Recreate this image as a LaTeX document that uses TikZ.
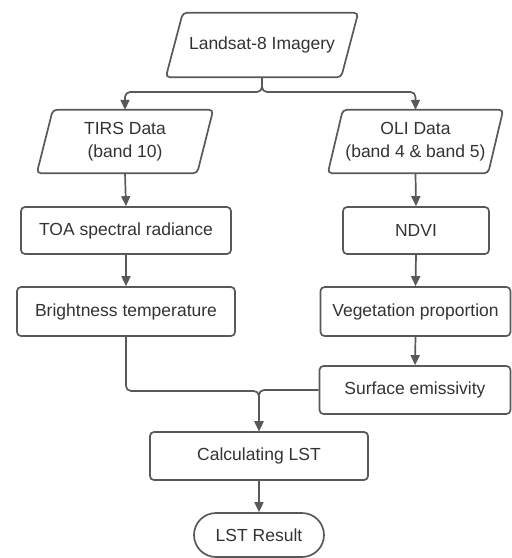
\documentclass[tikz,border=0pt]{standalone}
\usepackage{fontspec}
\setmainfont{Liberation Sans}
\usetikzlibrary{arrows.meta,calc}
\definecolor{linec}{HTML}{595959}
\definecolor{textc}{HTML}{333333}
\tikzset{
  base/.style={inner sep=0pt, text=textc, align=center, font=\fontsize{17.5}{23}\selectfont},
  procbox/.style={base, draw=linec, line width=1.7pt, rounded corners=4pt},
  iobox/.style={base},
  termbox/.style={base, draw=linec, line width=1.7pt, rounded corners=22pt},
  para/.style={draw=linec, line width=1.7pt, rounded corners=4pt},
  conn/.style={draw=linec, line width=1.7pt, rounded corners=5pt, -{Triangle[length=10pt,width=9pt]}},
  plain/.style={draw=linec, line width=1.7pt, rounded corners=5pt}
}
\begin{document}
\begin{tikzpicture}[x=1pt,y=-1pt]
\useasboundingbox (0,0) rectangle (512,558);
% input/output parallelograms
\node[iobox, minimum width=192pt, minimum height=64pt] (L) at (262,45) {Landsat-8 Imagery};
\draw[para] ([xshift=17pt]L.north west) -- (L.north east) -- ([xshift=-17pt]L.south east) -- (L.south west) -- cycle;
\node[iobox, minimum width=176pt, minimum height=63pt] (T) at (125,141.5) {TIRS Data\\(band 10)};
\draw[para] ([xshift=16pt]T.north west) -- (T.north east) -- ([xshift=-16pt]T.south east) -- (T.south west) -- cycle;
\node[iobox, minimum width=175pt, minimum height=63pt] (O) at (415.5,141.5) {OLI Data\\(band 4 \& band 5)};
\draw[para] ([xshift=15pt]O.north west) -- (O.north east) -- ([xshift=-15pt]O.south east) -- (O.south west) -- cycle;
% process boxes
\node[procbox, minimum width=210pt, minimum height=47pt] (TOA) at (126,230.5) {TOA spectral radiance};
\node[procbox, minimum width=146pt, minimum height=47pt] (N) at (416,230.5) {NDVI};
\node[procbox, minimum width=218pt, minimum height=49pt] (B) at (126,311.5) {Brightness temperature};
\node[procbox, minimum width=190pt, minimum height=49pt] (V) at (415.5,311.5) {Vegetation proportion};
\node[procbox, minimum width=191pt, minimum height=48pt] (S) at (415,390) {Surface emissivity};
\node[procbox, minimum width=218pt, minimum height=48pt] (C) at (259,456) {Calculating LST};
\node[termbox, minimum width=130pt, minimum height=44pt] (R) at (259,535) {LST Result};
% connectors
\coordinate (split) at (262,92);
\draw[conn] (L.south) -- (split) -| (T.north);
\draw[conn] (L.south) -- (split) -| (O.north);
\draw[conn] (T.south) -- (TOA.north);
\draw[conn] (TOA.south) -- (B.north);
\draw[conn] (O.south) -- (N.north);
\draw[conn] (N.south) -- (V.north);
\draw[conn] (V.south) -- (S.north);
\coordinate (join) at (259,391);
\draw[conn] (B.south) |- (join) -- (C.north);
\draw[conn] (S.west) -| (C.north);
\draw[conn] (C.south) -- (R.north);
\end{tikzpicture}
\end{document}
